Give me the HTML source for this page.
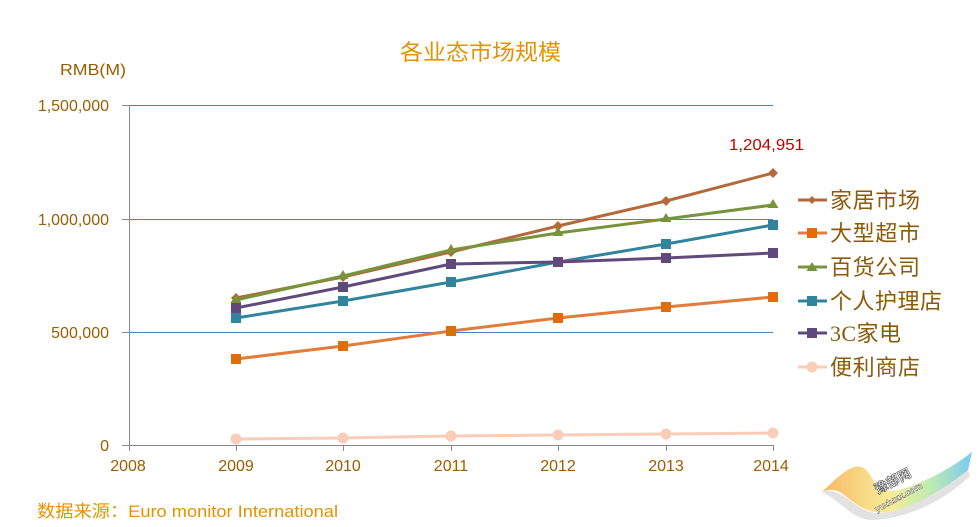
<!DOCTYPE html>
<html><head><meta charset="utf-8"><style>
html,body{margin:0;padding:0;background:#fff;}
svg{display:block;}
</style></head><body>
<svg width="979" height="527" viewBox="0 0 979 527" xmlns="http://www.w3.org/2000/svg">
<defs>
<linearGradient id="wg" x1="0" y1="0" x2="1" y2="0">
<stop offset="0" stop-color="#f5a94a" stop-opacity="0.85"/>
<stop offset="0.45" stop-color="#f7e26a" stop-opacity="0.7"/>
<stop offset="0.7" stop-color="#9be07a" stop-opacity="0.6"/>
<stop offset="1" stop-color="#49b8f0" stop-opacity="0.75"/>
</linearGradient>
</defs>
<!-- title -->
<text x="400" y="60" textLength="161" lengthAdjust="spacingAndGlyphs" font-family="Liberation Sans, Noto Sans CJK SC, sans-serif" font-size="22" fill="#e39300">各业态市场规模</text>
<text x="60" y="75" textLength="66" lengthAdjust="spacingAndGlyphs" font-family="Liberation Sans, sans-serif" font-size="16" fill="#9c5c00">RMB(M)</text>
<!-- gridlines -->
<g stroke="#4f81bd" stroke-width="1">
<line x1="128" y1="105.5" x2="773" y2="105.5"/>
<line x1="128" y1="219.5" x2="773" y2="219.5"/>
<line x1="128" y1="332.5" x2="773" y2="332.5"/>
</g>
<!-- axes -->
<g stroke="#888" stroke-width="1">
<line x1="129.5" y1="105" x2="129.5" y2="451"/>
<line x1="122" y1="445.5" x2="773" y2="445.5"/>
<line x1="122" y1="105.5" x2="129" y2="105.5"/>
<line x1="122" y1="219.5" x2="129" y2="219.5"/>
<line x1="122" y1="332.5" x2="129" y2="332.5"/>
<line x1="236.5" y1="445" x2="236.5" y2="451"/>
<line x1="343.5" y1="445" x2="343.5" y2="451"/>
<line x1="451.5" y1="445" x2="451.5" y2="451"/>
<line x1="558.5" y1="445" x2="558.5" y2="451"/>
<line x1="666.5" y1="445" x2="666.5" y2="451"/>
<line x1="773.5" y1="445" x2="773.5" y2="451"/>
</g>
<g font-family="Liberation Sans, sans-serif" font-size="16" fill="#9c5c00">
<text x="109" y="111" text-anchor="end">1,500,000</text>
<text x="109" y="225" text-anchor="end">1,000,000</text>
<text x="109" y="338" text-anchor="end">500,000</text>
<text x="109" y="451" text-anchor="end">0</text>
<g text-anchor="middle">
<text x="128" y="471">2008</text>
<text x="236" y="471">2009</text>
<text x="343" y="471">2010</text>
<text x="451" y="471">2011</text>
<text x="558" y="471">2012</text>
<text x="666" y="471">2013</text>
<text x="771" y="471">2014</text>
</g>
</g>
<!-- series -->
<g fill="none" stroke-width="3" stroke-linejoin="round">
<polyline stroke="#b5693a" points="236,298 343,277 451,252 558,226 666,201 773,173"/>
<polyline stroke="#e07d3a" points="236,359 343,346 451,331 558,318 666,307 773,297"/>
<polyline stroke="#77933c" points="236,300 343,276 451,250 558,233 666,219 773,205"/>
<polyline stroke="#31849b" points="236,318 343,301 451,282 558,262 666,244 773,225"/>
<polyline stroke="#604a7b" points="236,308 343,287 451,264 558,262 666,258 773,253"/>
<polyline stroke="#f9cdb8" points="236,439 343,438 451,436 558,435 666,434 773,433"/>
</g>
<!-- markers 家居 diamonds -->
<g fill="#b5693a">
<path d="M236,293 l5,5 l-5,5 l-5,-5z"/>
<path d="M343,272 l5,5 l-5,5 l-5,-5z"/>
<path d="M451,247 l5,5 l-5,5 l-5,-5z"/>
<path d="M558,221 l5,5 l-5,5 l-5,-5z"/>
<path d="M666,196 l5,5 l-5,5 l-5,-5z"/>
<path d="M773,168 l5,5 l-5,5 l-5,-5z"/>
</g>
<!-- 大型 squares -->
<g fill="#e36c0a">
<rect x="231" y="354" width="10" height="10"/>
<rect x="338" y="341" width="10" height="10"/>
<rect x="446" y="326" width="10" height="10"/>
<rect x="553" y="313" width="10" height="10"/>
<rect x="661" y="302" width="10" height="10"/>
<rect x="768" y="292" width="10" height="10"/>
</g>
<!-- 百货 triangles -->
<g fill="#77933c">
<path d="M236,294 l5.5,9 h-11z"/>
<path d="M343,270 l5.5,9 h-11z"/>
<path d="M451,244 l5.5,9 h-11z"/>
<path d="M558,227 l5.5,9 h-11z"/>
<path d="M666,213 l5.5,9 h-11z"/>
<path d="M773,199 l5.5,9 h-11z"/>
</g>
<!-- 个人 squares -->
<g fill="#31849b">
<rect x="231" y="313" width="10" height="10"/>
<rect x="338" y="296" width="10" height="10"/>
<rect x="446" y="277" width="10" height="10"/>
<rect x="553" y="257" width="10" height="10"/>
<rect x="661" y="239" width="10" height="10"/>
<rect x="768" y="220" width="10" height="10"/>
</g>
<!-- 3C squares -->
<g fill="#604a7b">
<rect x="231" y="303" width="10" height="10"/>
<rect x="338" y="282" width="10" height="10"/>
<rect x="446" y="259" width="10" height="10"/>
<rect x="553" y="257" width="10" height="10"/>
<rect x="661" y="253" width="10" height="10"/>
<rect x="768" y="248" width="10" height="10"/>
</g>
<!-- 便利 circles -->
<g fill="#f9cdb8">
<circle cx="236" cy="439" r="5.5"/>
<circle cx="343" cy="438" r="5.5"/>
<circle cx="451" cy="436" r="5.5"/>
<circle cx="558" cy="435" r="5.5"/>
<circle cx="666" cy="434" r="5.5"/>
<circle cx="773" cy="433" r="5.5"/>
</g>
<text x="729" y="150" textLength="75" lengthAdjust="spacingAndGlyphs" font-family="Liberation Sans, sans-serif" font-size="16" fill="#c00000">1,204,951</text>
<!-- legend -->
<g stroke-width="3">
<line x1="798" y1="200" x2="827" y2="200" stroke="#b5693a"/>
<line x1="798" y1="233" x2="827" y2="233" stroke="#e07d3a"/>
<line x1="798" y1="267" x2="827" y2="267" stroke="#77933c"/>
<line x1="798" y1="301" x2="827" y2="301" stroke="#31849b"/>
<line x1="798" y1="333" x2="827" y2="333" stroke="#604a7b"/>
<line x1="798" y1="367" x2="827" y2="367" stroke="#f9cdb8"/>
</g>
<path d="M812,196 l4,4 l-4,4 l-4,-4z" fill="#b5693a"/>
<rect x="807" y="228" width="10" height="10" fill="#e36c0a"/>
<path d="M812,262 l5.5,9 h-11z" fill="#77933c"/>
<rect x="807" y="296" width="10" height="10" fill="#31849b"/>
<rect x="807" y="328" width="10" height="10" fill="#604a7b"/>
<circle cx="812" cy="367" r="5.5" fill="#f9cdb8"/>
<g font-family="Liberation Serif, Noto Sans CJK SC, sans-serif" font-size="22" fill="#8c5a08" lengthAdjust="spacingAndGlyphs">
<text x="830" y="208" textLength="90">家居市场</text>
<text x="830" y="241" textLength="90">大型超市</text>
<text x="830" y="275" textLength="90">百货公司</text>
<text x="830" y="309" textLength="112">个人护理店</text>
<text x="830" y="341" textLength="71">3C家电</text>
<text x="830" y="375" textLength="90">便利商店</text>
</g>
<text x="37" y="517" textLength="301" lengthAdjust="spacingAndGlyphs" font-family="Liberation Sans, Noto Sans CJK SC, sans-serif" font-size="17" fill="#e39300">数据来源：Euro monitor International</text>
<!-- watermark -->
<g>
<path d="M822,492 C845,470 860,455 872,478 C882,498 900,492 930,478 C950,468 962,460 972,452 L968,470 C950,488 920,505 890,512 C865,516 852,500 840,492 C832,488 826,490 822,492z" fill="url(#wg)"/>
<path d="M822,492 C840,486 850,505 870,512 C890,518 930,500 968,470 L970,476 C940,505 900,520 870,520 C850,518 840,500 822,492z" fill="#e2e2e2"/>
<text x="895" y="485" font-family="Liberation Sans, Noto Sans CJK SC, sans-serif" font-size="13" font-weight="bold" fill="#fff" stroke="#555" stroke-width="0.6" transform="rotate(-28 895 485)" text-anchor="middle">豫部网</text>
<text x="900" y="500" font-family="Liberation Sans, sans-serif" font-size="9" font-weight="bold" fill="#fff" stroke="#555" stroke-width="0.4" transform="rotate(-28 900 500)" text-anchor="middle">yuduxx.com</text>
</g>
</svg>
</body></html>
